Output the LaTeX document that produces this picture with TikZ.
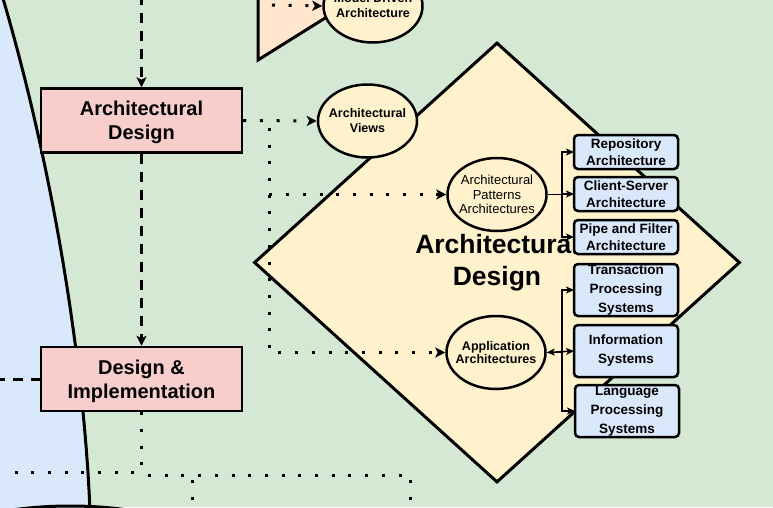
\documentclass[tikz,border=0pt]{standalone}
\usepackage{fontspec}
\setmainfont{Liberation Sans}
\usetikzlibrary{shapes.geometric}
\usetikzlibrary{positioning}
\usetikzlibrary{arrows.meta}
\definecolor{greenBg}{HTML}{D5E8D4}
\definecolor{blueBg}{HTML}{DAE8FC}
\definecolor{pinkFill}{HTML}{F8CECC}
\definecolor{yellowFill}{HTML}{FFF2CC}
\definecolor{peachFill}{HTML}{FFE6CC}

\begin{document}
\begin{tikzpicture}[
			x=1pt, y=-1pt,
			phase/.style={draw, line width=2.5pt, fill=pinkFill, minimum width=201pt, minimum height=64pt, inner sep=0pt, text depth=0pt, align=center, font=\bfseries\fontsize{20}{24}\selectfont},
			topic/.style={ellipse, draw, line width=2.5pt, fill=yellowFill, minimum width=99pt, minimum height=73pt, inner sep=-12pt, align=center, font=\bfseries\fontsize{12.5}{15}\selectfont},
			leaf/.style={draw, rounded corners=4pt, line width=2.5pt, fill=blueBg, minimum width=104pt, minimum height=34pt, inner sep=0pt, outer sep=0pt, align=center, font=\bfseries\fontsize{13.5}{17}\selectfont},
			leafthree/.style={leaf, minimum height=52pt, font=\bfseries\fontsize{13.5}{19}\selectfont},
			dotflow/.style={line width=3pt, dash pattern=on 3pt off 13.7pt},
			dashflow/.style={line width=3pt, dash pattern=on 10pt off 8pt},
			bigtip/.style={-{Stealth[length=10pt, width=10pt, inset=2.5pt]}},
			thinflow/.style={line width=1.5pt, -{Stealth[length=8pt, width=7pt, inset=2pt]}},
			]
			\useasboundingbox (0,0) rectangle (773,507);
			\clip (0,0) rectangle (773,507);
			\fill[greenBg] (0,0) rectangle (773,507);
			\draw[line width=3pt, fill=blueBg] (2,-5) .. controls (58,185) and (85,380) .. (90,512) -- (-10,512) -- (-10,-5) -- cycle;
			\draw[line width=3pt] (70,590) ellipse [x radius=190, y radius=84];
			\draw[line width=3pt, fill=peachFill] (258,-60) -- (258,60) -- (354,0) -- cycle;
			\node[diamond, draw, line width=3pt, fill=yellowFill, minimum width=486pt, minimum height=440pt, inner sep=0pt, align=center, font=\bfseries\fontsize{26.5}{32}\selectfont] (core) at (497,262.5) {Architectural\\Design};
			\node[phase] (ad) at (141.5,120.5) {Architectural\\Design};
			\node[phase] (di) at (141.5,379) {Design \&\\Implementation};
			\node[topic] (mda) at (373,6) {Model Driven\\Architecture};
			\node[topic] (views) at (367.5,121) {Architectural\\Views};
			\node[topic, font=\fontsize{13}{14.5}\selectfont] (pat) at (497,194.5) {Architectural\\Patterns\\Architectures};
			\node[topic, font=\bfseries\fontsize{12.5}{13}\selectfont] (app) at (496,352.5) {Application\\Architectures};
			\node[leaf] (repo) at (626,152) {Repository\\Architecture};
			\node[leaf, below=8pt of repo] (client) {Client-Server\\Architecture};
			\node[leaf, below=9pt of client] (pipe) {Pipe and Filter\\Architecture};
			\node[leafthree, below=10pt of pipe] (trans) {Transaction\\Processing\\Systems};
			\node[leafthree, below=9pt of trans] (info) {Information\\Systems};
			\node[leafthree, below=8pt of info, xshift=1pt] (lang) {Language\\Processing\\Systems};
			\coordinate (topin) at (141.5,-5);
			\coordinate (leftin) at (-5,379);
			\coordinate (mdsrc) at (272,5);
			\coordinate (lowL) at (13,472);
			\coordinate (lowM) at (148,475);
			\coordinate (lowR) at (410,475);
			\coordinate (lowRd) at (410,512);
			\coordinate (lowB) at (192,480);
			\coordinate (lowBd) at (192,512);
			\draw[dashflow, bigtip] (topin) -- (ad.north);
			\draw[dashflow, bigtip] (ad.south) -- (di.north);
			\draw[dashflow] (leftin) -- (di.west);
			\draw[dotflow, bigtip] (mdsrc) -- (mda.west);
			\draw[dotflow, bigtip] (ad.east) -- (views.west);
			\foreach \t in {pat,app} \draw[dotflow, bigtip] (ad.east) -- ++(26,0) |- (\t.west);
			\draw[dotflow] (di.south) |- (lowL);
			\draw[dotflow] (lowM) -- (lowR) -- (lowRd);
			\draw[dotflow] (lowB) -- (lowBd);
			\foreach \b in {repo,client,pipe} \draw[thinflow] (pat.east) -- ++(14,0) |- (\b.west);
			\foreach \b in {trans,lang} \draw[thinflow] (app.east) -- ++(15,0) |- (\b.west);
			\draw[thinflow, {Stealth[length=8pt, width=7pt, inset=2pt]}-{Stealth[length=8pt, width=7pt, inset=2pt]}] (app.east) -- (info.west);
		\end{tikzpicture}
\end{document}
